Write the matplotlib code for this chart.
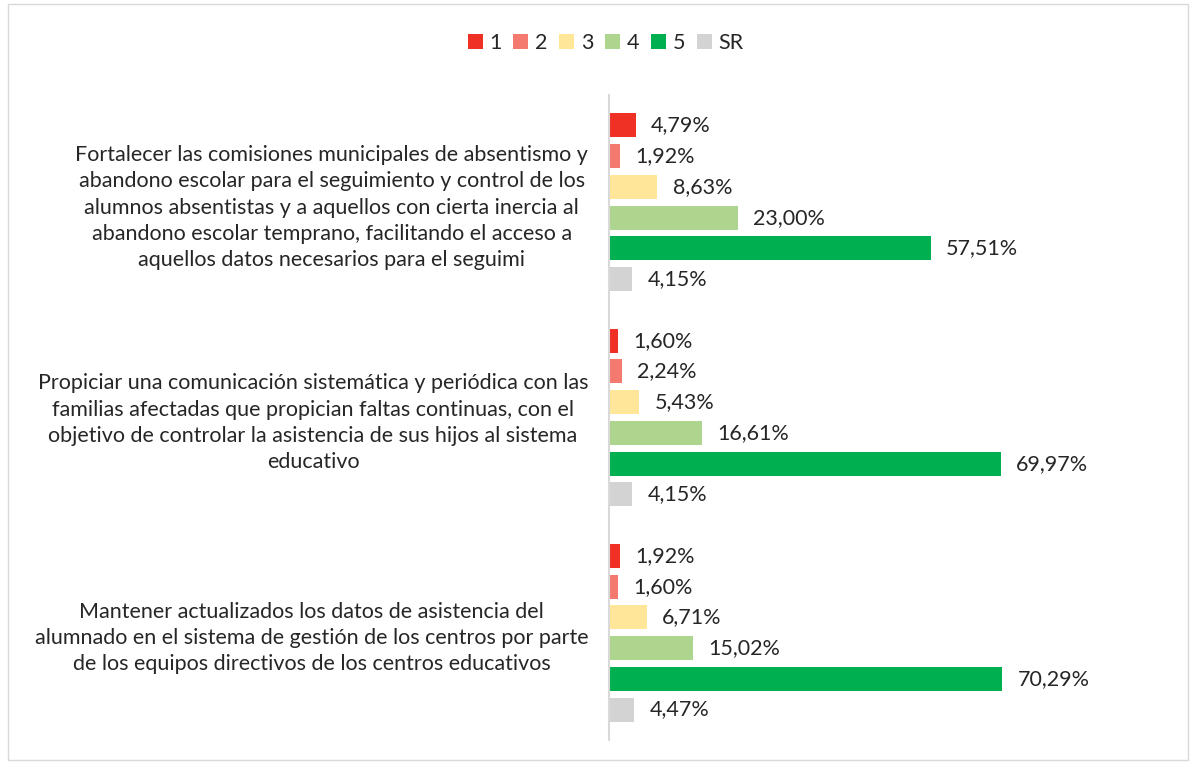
import matplotlib
matplotlib.use("Agg")
import matplotlib.pyplot as plt
import numpy as np

categories = [
    "Fortalecer las comisiones municipales de absentismo y\n"
    "abandono escolar para el seguimiento y control de los\n"
    "alumnos absentistas y a aquellos con cierta inercia al\n"
    "abandono escolar temprano, facilitando el acceso a\n"
    "aquellos datos necesarios para el seguimi",
    "Propiciar una comunicación sistemática y periódica con las\n"
    "familias afectadas que propician faltas continuas, con el\n"
    "objetivo de controlar la asistencia de sus hijos al sistema\n"
    "educativo",
    "Mantener actualizados los datos de asistencia del\n"
    "alumnado en el sistema de gestión de los centros por parte\n"
    "de los equipos directivos de los centros educativos",
]
series_names = ["1", "2", "3", "4", "5", "SR"]
values = {
    "1": [4.79, 1.60, 1.92],
    "2": [1.92, 2.24, 1.60],
    "3": [8.63, 5.43, 6.71],
    "4": [23.00, 16.61, 15.02],
    "5": [57.51, 69.97, 70.29],
    "SR": [4.15, 4.15, 4.47],
}
colors = ["#EE3124", "#F4796F", "#FFE699", "#AED58D", "#00B050", "#D3D3D3"]

plt.rcParams['font.family'] = ['Lato', 'DejaVu Sans']
fs = 15.5

fig = plt.figure(figsize=(11.92, 7.64), dpi=100)
ax = fig.add_axes([0.511, 0.031, 0.352, 0.845])

n = len(series_names)
pitch = 1.0 / 7.0
bar_h = pitch * 0.78
centers = np.arange(len(categories))
for i, name in enumerate(series_names):
    ys = centers - (n - 1) / 2 * pitch + i * pitch
    ax.barh(ys, values[name], height=bar_h, color=colors[i], label=name)
    for y, v in zip(ys, values[name]):
        ax.annotate(f"{v:.2f}%".replace(".", ","), (v, y), xytext=(11, 0),
                    textcoords="offset points", va="center", ha="left",
                    fontsize=fs, color="#262626")

ax.set_xlim(0, 75)
ax.set_ylim(len(categories) - 0.5, -0.5)
ax.set_yticks(centers)
ax.set_yticklabels(categories, fontsize=fs, color="#262626",
                   multialignment="center", linespacing=1.4)
ax.tick_params(axis="y", length=0, pad=15)
ax.set_xticks([])
for s in ["top", "right", "bottom"]:
    ax.spines[s].set_visible(False)
ax.spines["left"].set_color("#D9D9D9")
ax.spines["left"].set_linewidth(1.5)

fig.legend(loc="upper center", bbox_to_anchor=(0.508, 0.982), ncol=6, frameon=False,
           fontsize=fs, handlelength=0.7, handleheight=0.7, handletextpad=0.3,
           columnspacing=0.55, labelcolor="#262626")

border = plt.Rectangle((0.007, 0.005), 0.99, 0.99, transform=fig.transFigure,
                       fill=False, edgecolor="#D9D9D9", linewidth=1)
fig.patches.append(border)

fig.savefig("out.png", dpi=100)
